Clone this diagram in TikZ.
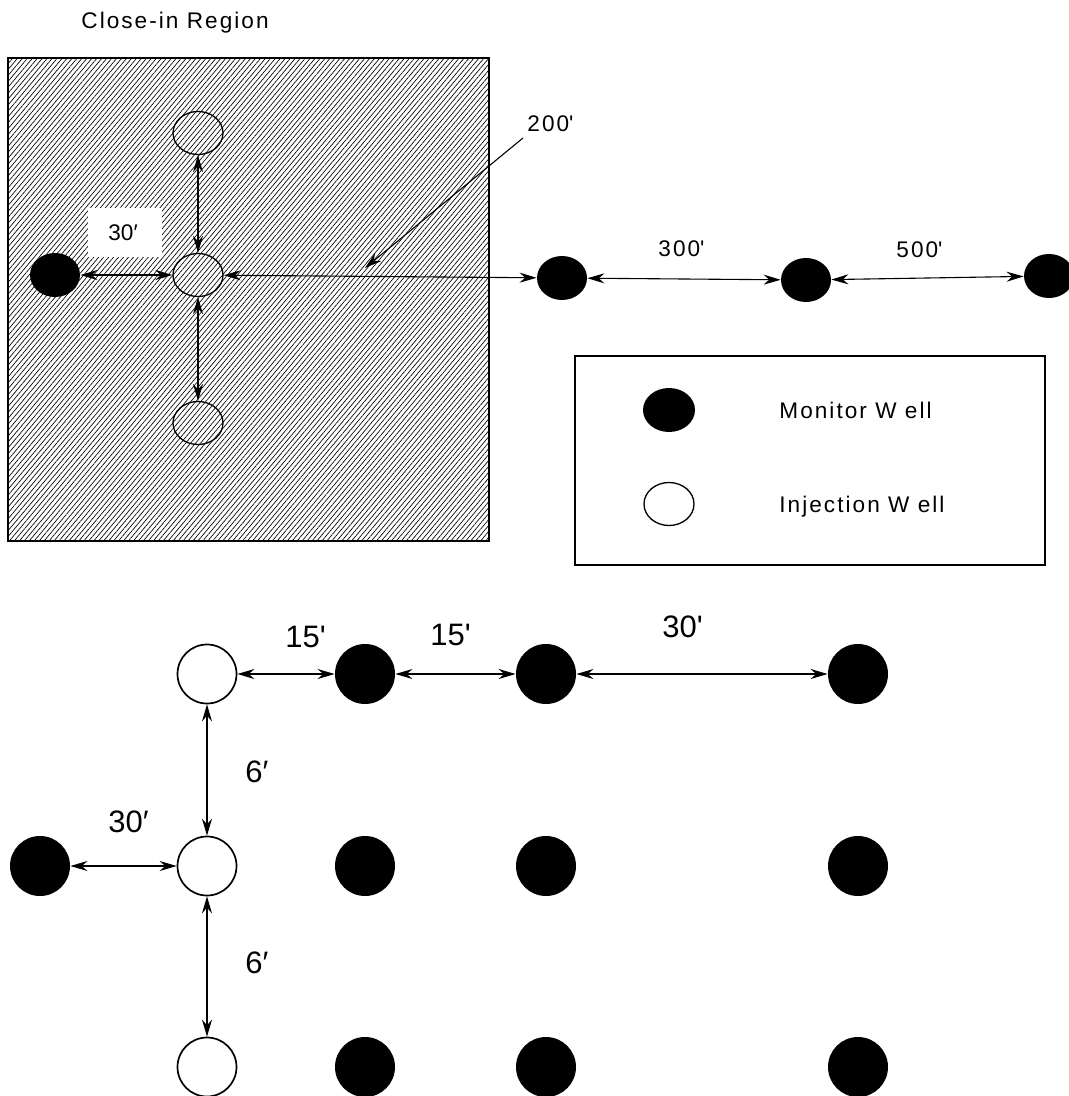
\documentclass[tikz,border=0pt]{standalone}
\usepackage{fontspec}
\setmainfont{Liberation Sans}
\newfontfamily\spfont[LetterSpace=9]{Liberation Sans}
\usetikzlibrary{arrows.meta,shapes.geometric,patterns.meta}
\tikzset{
  smallmon/.style={ellipse, fill=black, inner sep=0pt, minimum width=25pt, minimum height=22pt},
  smallinj/.style={ellipse, draw, line width=0.65pt, inner sep=0pt, minimum width=25pt, minimum height=21.5pt},
  bigmon/.style={circle, fill=black, inner sep=0pt, minimum size=30pt},
  biginj/.style={circle, draw, fill=white, line width=0.85pt, inner sep=0pt, minimum size=29.5pt},
  tipA/.tip={Stealth[length=8.5pt,width=5pt,inset=2.8pt]},
  dimtop/.style={tipA-tipA, line width=0.55pt},
  dimbot/.style={tipA-tipA, line width=0.7pt},
  leader/.style={-tipA, line width=0.55pt},
  toplab/.style={font=\spfont\fontsize{11.3}{13}\selectfont, inner sep=0pt, anchor=base west},
  plainlab/.style={font=\fontsize{11.3}{13}\selectfont, inner sep=0pt, anchor=base west},
  botlab/.style={font=\fontsize{15.5}{18}\selectfont, inner sep=0pt, anchor=base west}
}
\begin{document}
\begin{tikzpicture}[x=0.5pt,y=-0.5pt]
\useasboundingbox (0,0) rectangle (1069,1096);

% title
\node[toplab] (title) at (81,29) {Close-in Region};

% hatched close-in region
\draw[line width=0.7pt, pattern={Lines[angle=50,distance=1.9pt,line width=0.33pt]}] (8,58) rectangle (489,541);

% white label box
\node[fill=white, inner sep=0pt, minimum width=37pt, minimum height=24.5pt] (box30) at (125,232.5) {};
\node[plainlab] (lab30a) at (108,241) {30′};

% wells in close-in region
\node[smallinj] (ct) at (198,133) {};
\node[smallinj] (cc) at (198,275) {};
\node[smallinj] (cb) at (198,423) {};
\node[smallmon] (cl) at (55,275) {};
\node[smallmon] (m1) at (562,278) {};
\node[smallmon] (m2) at (806,280) {};
\node[smallmon] (m3) at (1049,276) {};

\draw[dimtop] (ct) -- (cc);
\draw[dimtop] (cc) -- (cb);
\draw[dimtop] (cl) -- (cc);
\draw[dimtop] (cc) -- (m1);
\draw[dimtop] (m1) -- (m2);
\draw[dimtop] (m2) -- (m3);

% labels
\node[toplab] (l200) at (527,132) {200\textquotesingle};
\coordinate (q200) at (523,138);
\coordinate (p200) at (365,268);
\draw[leader] (q200) -- (p200);
\node[toplab] (l300) at (658,257) {300\textquotesingle};
\node[toplab] (l500) at (896,258) {500\textquotesingle};

% legend
\node[draw, line width=0.6pt, inner sep=0pt, minimum width=235pt, minimum height=104.5pt] (legend) at (810,460.5) {};
\node[smallmon, minimum width=26pt] (lgm) at (669,410) {};
\node[smallinj] (lgi) at (669,504) {};
\node[toplab] (lgmt) at (779,418) {Monitor W ell};
\node[toplab] (lgit) at (779,512) {Injection W ell};

% bottom grid
\node[biginj] (i1) at (207,674) {};
\node[biginj] (i2) at (207,866) {};
\node[biginj] (i3) at (207,1067) {};
\node[bigmon] (lm) at (40,866) {};
\node[bigmon] (r11) at (365,674) {};
\node[bigmon] (r12) at (546,674) {};
\node[bigmon] (r13) at (858,674) {};
\node[bigmon] (r21) at (365,866) {};
\node[bigmon] (r22) at (546,866) {};
\node[bigmon] (r23) at (858,866) {};
\node[bigmon] (r31) at (365,1067) {};
\node[bigmon] (r32) at (546,1067) {};
\node[bigmon] (r33) at (858,1067) {};

\draw[dimbot] (i1) -- (r11);
\draw[dimbot] (r11) -- (r12);
\draw[dimbot] (r12) -- (r13);
\draw[dimbot] (i1) -- (i2);
\draw[dimbot] (i2) -- (i3);
\draw[dimbot] (lm) -- (i2);

\node[botlab] (b15a) at (285,647) {15\textquotesingle};
\node[botlab] (b15b) at (430,645) {15\textquotesingle};
\node[botlab] (b30r) at (662,637) {30\textquotesingle};
\node[botlab] (b6a) at (245,782) {6′};
\node[botlab] (b6b) at (245,973) {6′};
\node[botlab] (b30l) at (108,832) {30′};
\end{tikzpicture}
\end{document}
